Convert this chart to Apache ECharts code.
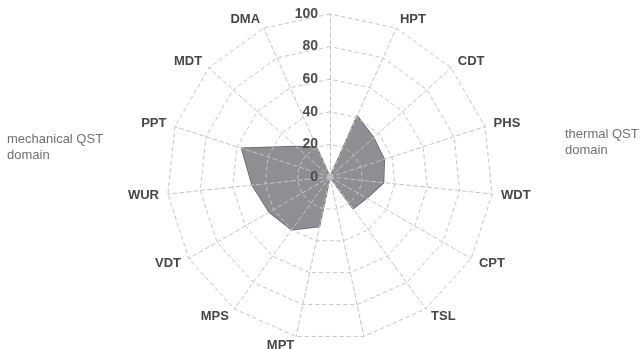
<!DOCTYPE html>
<html>
<head>
<meta charset="utf-8">
<script src="https://cdn.jsdelivr.net/npm/echarts@6/dist/echarts.min.js"></script>
<style>
  html, body { margin: 0; padding: 0; background: #fff; }
  #chart { width: 644px; height: 349px; }
</style>
</head>
<body>
<div id="chart"></div>
<script>
// Test names in clockwise order starting from the top axis (blank names are spacer axes)
const tests = ['', 'HPT', 'CDT', 'PHS', 'WDT', 'CPT', 'TSL', '', 'MPT', 'MPS', 'VDT', 'WUR', 'PPT', 'MDT', 'DMA'];
// Share of abnormal results per test (%), same order
const values = [0, 41, 36, 35, 33, 26, 24, 0, 31, 40, 43, 48, 57, 28, 20];
const ticks = [0, 20, 40, 60, 80, 100];
const sideLabels = ['mechanical QST\ndomain', 'thermal QST\ndomain'];

// ECharts lays radar indicators out counter-clockwise, so keep the first
// (top) entry and reverse the rest to read clockwise.
const ccw = arr => [arr[0]].concat(arr.slice(1).reverse());

const indicator = ccw(tests).map((name, i) => {
  const ind = { name: name, min: ticks[0], max: ticks[ticks.length - 1] };
  if (i === 0) ind.axisLabel = { show: true, showMinLabel: true, hideOverlap: false };
  return ind;
});

const sideStyle = {
  fontFamily: 'Liberation Sans, Arial', fontSize: 13, fontWeight: 'normal',
  color: '#707070', lineHeight: 16
};

const chart = echarts.init(document.getElementById('chart'), null, { renderer: 'canvas' });
chart.setOption({
  animation: false,
  backgroundColor: '#ffffff',
  title: [
    { text: sideLabels[0], left: 7, top: 131, padding: 0, textStyle: sideStyle },
    { text: sideLabels[1], left: 565, top: 126, padding: 0, textStyle: sideStyle }
  ],
  radar: {
    // grid and scale drawn above the filled profile
    z: 3,
    center: [330, 177],
    radius: 163,
    startAngle: 90,
    shape: 'polygon',
    splitNumber: ticks.length - 1,
    indicator: indicator,
    nameGap: 9,
    axisName: {
      color: '#474747',
      fontFamily: 'Liberation Sans, Arial',
      fontSize: 13,
      fontWeight: 'bold'
    },
    axisLine: { show: true, lineStyle: { color: '#c4c4c4', type: [4, 3], width: 1 } },
    splitLine: { show: true, lineStyle: { color: '#c4c4c4', type: [4, 3], width: 1 } },
    splitArea: { show: false },
    axisTick: { show: false },
    axisLabel: {
      show: false,
      showMinLabel: true,
      color: '#4d4d4d',
      fontFamily: 'Liberation Sans, Arial',
      fontSize: 14,
      fontWeight: 'bold',
      margin: 12
    }
  },
  series: [{
    type: 'radar',
    symbol: 'none',
    z: 1,
    data: [{
      value: ccw(values),
      lineStyle: { color: '#5f6063', width: 1.5 },
      areaStyle: { color: '#8d8f93', opacity: 1 }
    }]
  }]
});
</script>
</body>
</html>
